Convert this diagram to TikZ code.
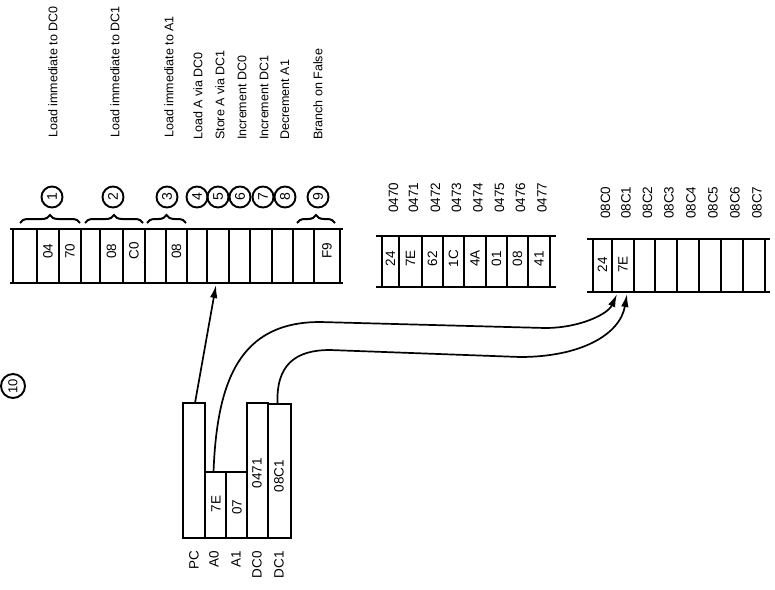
\documentclass[tikz,border=0pt]{standalone}
\usepackage{fontspec}
\setmainfont{Liberation Sans}
\usetikzlibrary{decorations.pathreplacing,arrows.meta}
\begin{document}
\begin{tikzpicture}[x=1pt,y=-1pt,
  cellbox/.style={draw,line width=1.8pt,inner sep=0pt,outer sep=0pt},
  rail/.style={line width=2.2pt},
  rot/.style={rotate=90,inner sep=0pt,font=\fontsize{13.5}{14}\selectfont},
  toplbl/.style={rot,anchor=west,font=\fontsize{12.5}{13}\selectfont},
  addr/.style={rot,anchor=west,font=\fontsize{13.5}{14}\selectfont},
  reglbl/.style={rot,anchor=east,font=\fontsize{13.5}{14}\selectfont},
  num/.style={circle,draw,line width=1.9pt,minimum size=21pt,inner sep=0pt,rotate=90,font=\fontsize{14}{14}\selectfont},
  brc/.style={decorate,decoration={brace,amplitude=8pt},line width=2pt},
  conn/.style={line width=1.7pt,-{Latex[length=13pt,width=7.5pt]}}]
\useasboundingbox (0,0) rectangle (775,589);

% ---------- program memory ----------
\foreach \a/\b [count=\i] in {13/37,37/59,59/81,81/100,100/123,123/145,145/166,166/187,187/207,207/229,229/250,250/272,272/293,293/314,314/340}{
  \pgfmathsetmacro\w{\b-\a}
  \pgfmathsetmacro\c{(\a+\b)/2}
  \node[cellbox,minimum width=\w pt,minimum height=54pt] (p\i) at (\c,256) {};
}
\draw[rail] (10,229) -- (343,229);
\draw[rail] (10,283) -- (343,283);
\foreach \i/\t in {2/04,3/70,5/08,6/C0,8/08,15/F9}{
  \node[rot] (pt\i) at ([yshift=5pt]p\i.center) {\t};
}

% braces
\draw[brc] (20,223) -- (80,223) coordinate (b1);
\draw[brc] (85,223) -- (143,223) coordinate (b2);
\draw[brc] (147,223) -- (186,223) coordinate (b3);
\draw[brc] (297,223) -- (335,223) coordinate (b9);

% numbered circles
\foreach \n/\x in {1/52,2/113,3/167,4/197,5/218,6/240,7/263,8/285,9/318}{
  \node[num] (c\n) at (\x,197) {\n};
}
\node[num,minimum size=24pt,font=\fontsize{13}{13}\selectfont] (c10) at (13,386) {10};

% instruction labels
\node[toplbl] (l1) at (53,138) {Load immediate to DC0};
\node[toplbl] (l2) at (115,138) {Load immediate to DC1};
\node[toplbl] (l3) at (169,138) {Load immediate to A1};
\node[toplbl] (l4) at (198,140) {Load A via DC0};
\node[toplbl] (l5) at (220,140) {Store A via DC1};
\node[toplbl] (l6) at (242,140) {Increment DC0};
\node[toplbl] (l7) at (264,140) {Increment DC1};
\node[toplbl] (l8) at (285,140) {Decrement A1};
\node[toplbl] (l9) at (318,140) {Branch on False};

% ---------- data memory 0470 ----------
\foreach \a/\b/\t/\ad [count=\i] in {382/399/24/0470,399/422/7E/0471,422/443/62/0472,443/464/1C/0473,464/486/4A/0474,486/507/01/0475,507/528/08/0476,528/550/41/0477}{
  \pgfmathsetmacro\w{\b-\a}
  \pgfmathsetmacro\c{(\a+\b)/2}
  \node[cellbox,minimum width=\w pt,minimum height=51pt] (m\i) at (\c,261.5) {};
  \node[rot] (mt\i) at ([yshift=3pt]m\i.center) {\t};
  \node[addr] (ma\i) at ([xshift=3pt,yshift=23pt]m\i.north) {\ad};
}
\draw[rail] (376,236) -- (556,236);
\draw[rail] (376,287) -- (556,287);

% ---------- data memory 08C0 ----------
\foreach \a/\b/\t/\ad [count=\i] in {593/612/24/08C0,612/634/7E/08C1,634/655//08C2,655/677//08C3,677/699//08C4,699/721//08C5,721/743//08C6,743/765//08C7}{
  \pgfmathsetmacro\w{\b-\a}
  \pgfmathsetmacro\c{(\a+\b)/2}
  \node[cellbox,minimum width=\w pt,minimum height=53pt] (r\i) at (\c,265.5) {};
  \node[rot] (rt\i) at ([yshift=1pt]r\i.center) {\t};
  \node[addr] (ra\i) at ([xshift=3pt,yshift=20pt]r\i.north) {\ad};
}
\draw[rail] (587,239) -- (770,239);
\draw[rail] (587,292) -- (770,292);

% ---------- registers ----------
\node[cellbox,minimum width=22pt,minimum height=135pt] (pc) at (194,470.5) {};
\node[cellbox,minimum width=21pt,minimum height=66pt] (a0) at (215.5,505) {};
\node[cellbox,minimum width=21pt,minimum height=66pt] (a1) at (236.5,505) {};
\node[cellbox,minimum width=21pt,minimum height=135pt] (dc0) at (257.5,470.5) {};
\node[cellbox,minimum width=23pt,minimum height=134pt] (dc1) at (279.5,471) {};
\node[rot] (a0v) at (216,504) {7E};
\node[rot] (a1v) at (237,507) {07};
\node[rot] (dc0v) at (257,473) {0471};
\node[rot] (dc1v) at (279,476) {08C1};
\node[reglbl] (lpc) at (194,551) {PC};
\node[reglbl] (la0) at (214,551) {A0};
\node[reglbl] (la1) at (236,551) {A1};
\node[reglbl] (ldc0) at (257,551) {DC0};
\node[reglbl] (ldc1) at (279,551) {DC1};

% ---------- connectors ----------
\draw[conn] ([xshift=1pt]pc.north) -- ([xshift=-2pt,yshift=-2pt]p10.south);
\draw[conn] ([xshift=-2pt]a0.north) .. controls (217,380) and (240,322) .. (320,322)
   -- (545,328) .. controls (580,328) and (608,314) .. ([xshift=-6pt,yshift=-2pt]r2.south);
\draw[conn] ([xshift=-2pt]dc1.north) .. controls (276,365) and (295,350) .. (330,350)
   -- (520,357) .. controls (580,357) and (620,335) .. ([xshift=4pt,yshift=-2pt]r2.south);
\end{tikzpicture}
\end{document}
